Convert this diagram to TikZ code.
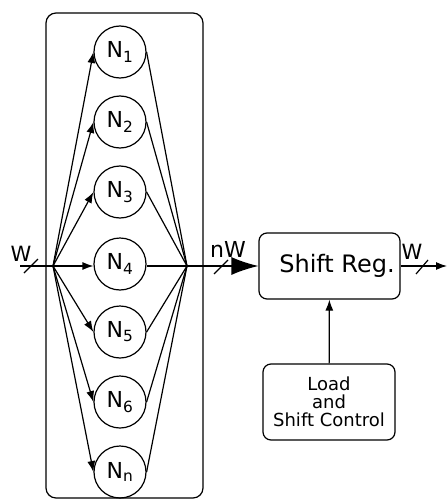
\documentclass[tikz,border=0pt]{standalone}
\usepackage{fontspec}
\setmainfont{DejaVu Sans}
\usetikzlibrary{arrows.meta}
\begin{document}
\begin{tikzpicture}[x=1pt,y=-1pt,line width=1.2pt,
  neuron/.style={draw,circle,minimum size=52pt,inner sep=0pt,font=\fontsize{22}{24}\selectfont},
  arr/.style={-{Latex[length=11pt,width=8pt]}},
  bigarr/.style={-{Latex[length=27pt,width=18pt]}},
  lbl/.style={inner sep=0pt,font=\fontsize{21}{24}\selectfont},
  blk/.style={draw,rounded corners=8pt,inner sep=0pt}]
\useasboundingbox (0,0) rectangle (447,503);
% outer container
\node[draw,rounded corners=10pt,minimum width=157pt,minimum height=485pt,inner sep=0pt] (box) at (124.5,255.5) {};
% neurons
\node[neuron] (N1) at (120,52) {N\textsubscript{1}};
\node[neuron] (N2) at (120,122) {N\textsubscript{2}};
\node[neuron] (N3) at (120,192) {N\textsubscript{3}};
\node[neuron] (N4) at (120,264) {N\textsubscript{4}};
\node[neuron] (N5) at (120,332) {N\textsubscript{5}};
\node[neuron] (N6) at (120,402) {N\textsubscript{6}};
\node[neuron] (Nn) at (120,472) {N\textsubscript{n}};
\coordinate (L) at (53,266);
\coordinate (R) at (187,266);
\coordinate (in) at (20,266);
% fan out
\foreach \n in {N1,N2,N3,N5,N6,Nn} \draw[arr] (L) -- (\n.west);
\draw[arr] (L) -- (L -| N4.west);
% fan in
\foreach \n in {N1,N2,N3,N5,N6,Nn} \draw (\n.east) -- (R);
\draw (N4.east |- R) -- (R);
% input
\draw (in) -- (L);
\node[lbl] (w1) at (21,254) {W};
\coordinate (s1) at (31,266);
\draw ([shift={(-7,7)}]s1) -- ([shift={(7,-7)}]s1);
% shift register
\node[blk,minimum width=141pt,minimum height=66pt,font=\fontsize{24}{28}\selectfont] (sr) at (329.5,266) {\hspace*{15pt}Shift Reg.};
\draw[bigarr] (R) -- (sr.west);
\node[lbl,font=\fontsize{22}{24}\selectfont] (nw) at (228,249) {nW};
\coordinate (s2) at (221,267);
\draw ([shift={(-7,7)}]s2) -- ([shift={(7,-7)}]s2);
% output
\coordinate (out) at (447,266);
\draw[arr] (sr.east) -- (out);
\node[lbl] (w2) at (412,252) {W};
\coordinate (s3) at (422,267);
\draw ([shift={(-6,7)}]s3) -- ([shift={(6,-7)}]s3);
% control
\node[blk,minimum width=132pt,minimum height=76pt,align=center,font=\fontsize{18}{18}\selectfont] (ctl) at (329,402) {Load\\and\\Shift Control};
\draw[arr] (ctl) -- (sr);
\end{tikzpicture}
\end{document}
